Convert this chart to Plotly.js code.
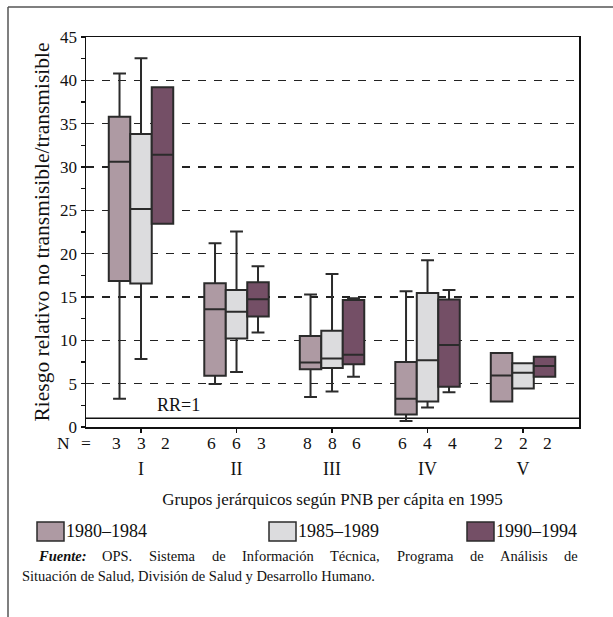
<!DOCTYPE html>
<html>
<head>
<meta charset="utf-8">
<script src="https://cdn.plot.ly/plotly-3.0.1.min.js"></script>
<style>
  html, body { margin: 0; padding: 0; background: #ffffff; }
  #chart { width: 613px; height: 617px; }
</style>
</head>
<body>
<div id="chart"></div>
<script>
// ---------- DATA ----------
const groups = ['I', 'II', 'III', 'IV', 'V'];
const seriesNames = ['1980–1984', '1985–1989', '1990–1994'];

// N per group, per period
const n8084 = [3, 6, 8, 6, 2];
const n8589 = [3, 6, 8, 4, 2];
const n9094 = [2, 3, 6, 4, 2];

// 1980–1984
const upper8084  = [40.8, 21.2, 15.3, 15.65, 8.54];
const q3_8084    = [35.8, 16.6, 10.5, 7.5, 8.54];
const median8084 = [30.6, 13.6, 7.45, 3.25, 5.95];
const q1_8084    = [16.85, 5.9, 6.65, 1.45, 2.95];
const lower8084  = [3.25, 4.95, 3.45, 0.7, 2.95];

// 1985–1989
const upper8589  = [42.55, 22.55, 17.65, 19.25, 7.35];
const q3_8589    = [33.8, 15.8, 11.1, 15.45, 7.35];
const median8589 = [25.15, 13.3, 7.9, 7.7, 6.25];
const q1_8589    = [16.55, 10.2, 6.8, 2.95, 4.45];
const lower8589  = [7.85, 6.35, 4.1, 2.25, 4.45];

// 1990–1994
const upper9094  = [39.2, 18.55, 14.85, 15.8, 8.1];
const q3_9094    = [39.2, 16.7, 14.65, 14.7, 8.1];
const median9094 = [31.4, 14.75, 8.35, 9.45, 7.05];
const q1_9094    = [23.45, 12.75, 7.25, 4.65, 5.8];
const lower9094  = [23.45, 10.9, 5.8, 4.0, 5.8];

const rrValue = 1;
const rrLabel = 'RR=1';
const yTitle = 'Riesgo relativo no transmisible/transmisible';
const xTitle = 'Grupos jerárquicos según PNB per cápita en 1995';
const sourceLine1 = ['<b><i>Fuente:</i></b>', 'OPS.', 'Sistema', 'de', 'Información', 'Técnica,', 'Programa', 'de', 'Análisis', 'de'];
const sourceLine2 = 'Situación de Salud, División de Salud y Desarrollo Humano.';

// ---------- STYLE ----------
const FONT = '"Liberation Serif", "Times New Roman", serif';
const fills = ['#ae9aa3', '#dcdcde', '#744f66'];
const outline = '#2b2b2b';

const stats = [
  {lo: lower8084, q1: q1_8084, med: median8084, q3: q3_8084, hi: upper8084, n: n8084},
  {lo: lower8589, q1: q1_8589, med: median8589, q3: q3_8589, hi: upper8589, n: n8589},
  {lo: lower9094, q1: q1_9094, med: median9094, q3: q3_9094, hi: upper9094, n: n9094}
];

const traces = stats.map((s, k) => ({
  type: 'box',
  name: seriesNames[k],
  x: groups,
  lowerfence: s.lo,
  q1: s.q1,
  median: s.med,
  q3: s.q3,
  upperfence: s.hi,
  boxpoints: false,
  fillcolor: fills[k],
  line: {color: outline, width: 2},
  whiskerwidth: 0.6,
  hoverinfo: 'skip',
  showlegend: false
}));

// plot area in px
const L = 86, R = 34, T = 37, B = 190, W = 613, H = 617;
const PW = W - L - R, PH = H - T - B;
const px2x = p => (p - L) / PW;
const py2y = p => (H - B - p) / PH;

const annotations = [];
const shapes = [];

// N labels
const nOffset = 0.26;
const nRowY = 443;
const nFont = {family: FONT, size: 17.5, color: '#111'};
stats.forEach((s, k) => {
  s.n.forEach((v, g) => {
    annotations.push({
      x: g + (k - 1) * nOffset, xref: 'x',
      y: py2y(nRowY), yref: 'paper',
      text: String(v), showarrow: false,
      xanchor: 'center', yanchor: 'middle',
      borderpad: 0, borderwidth: 0, font: nFont
    });
  });
});
annotations.push({
  x: px2x(70), xref: 'paper', y: py2y(nRowY), yref: 'paper',
  text: 'N', showarrow: false, xanchor: 'right', yanchor: 'middle',
  borderpad: 0, borderwidth: 0, font: nFont
});
annotations.push({
  x: px2x(81), xref: 'paper', y: py2y(nRowY), yref: 'paper',
  text: '=', showarrow: false, xanchor: 'left', yanchor: 'middle',
  borderpad: 0, borderwidth: 0, font: nFont
});

// RR line + label
shapes.push({
  type: 'line', xref: 'paper', yref: 'y', x0: 0, x1: 1, y0: rrValue, y1: rrValue,
  line: {color: '#111', width: 1.5}, layer: 'below'
});
annotations.push({
  x: 0.39, xref: 'x', y: 2.5, yref: 'y', text: rrLabel, showarrow: false,
  xanchor: 'center', yanchor: 'middle',
  font: {family: FONT, size: 18, color: '#111'}
});

// legend swatches
const swatchX = [37, 269, 467];
seriesNames.forEach((nm, k) => {
  shapes.push({
    type: 'rect', xref: 'paper', yref: 'paper',
    x0: px2x(swatchX[k]), x1: px2x(swatchX[k] + 27),
    y0: py2y(522), y1: py2y(541),
    fillcolor: fills[k], line: {color: outline, width: 1.5}
  });
  annotations.push({
    x: px2x(swatchX[k] + 29), xref: 'paper', y: py2y(531), yref: 'paper',
    text: nm, showarrow: false, xanchor: 'left', yanchor: 'middle',
    borderpad: 0, borderwidth: 0,
    font: {family: FONT, size: 18, color: '#111'}
  });
});

// source text, line 1 justified between 38 and 578 px
const SRC_SIZE = 14.5;
const ctx = document.createElement('canvas').getContext('2d');
function measure(word) {
  const bold = word.indexOf('<b>') >= 0;
  const plain = word.replace(/<[^>]+>/g, '');
  ctx.font = (bold ? 'italic bold ' : '') + SRC_SIZE + 'px "Liberation Serif"';
  return ctx.measureText(plain).width;
}
const widths = sourceLine1.map(measure);
const total = widths.reduce((a, b) => a + b, 0);
const gap = (578 - 38 - total) / (sourceLine1.length - 1);
let cur = 38;
sourceLine1.forEach((wd, i) => {
  annotations.push({
    x: px2x(cur), xref: 'paper', y: py2y(556), yref: 'paper',
    text: wd, showarrow: false, xanchor: 'left', yanchor: 'middle',
    borderpad: 0, borderwidth: 0,
    font: {family: FONT, size: SRC_SIZE, color: '#111'}
  });
  cur += widths[i] + gap;
});
annotations.push({
  x: px2x(22), xref: 'paper', y: py2y(576), yref: 'paper',
  text: sourceLine2, showarrow: false, xanchor: 'left', yanchor: 'middle',
  borderpad: 0, borderwidth: 0,
  font: {family: FONT, size: SRC_SIZE, color: '#111'}
});

// outer frame (top and left)
shapes.push({
  type: 'line', xref: 'paper', yref: 'paper',
  x0: px2x(8), x1: px2x(640), y0: py2y(7), y1: py2y(7),
  line: {color: '#555', width: 1.5}
});
shapes.push({
  type: 'line', xref: 'paper', yref: 'paper',
  x0: px2x(8), x1: px2x(8), y0: py2y(7), y1: py2y(640),
  line: {color: '#555', width: 1.5}
});

const layout = {
  width: W, height: H,
  margin: {l: L, r: R, t: T, b: B, pad: 0},
  paper_bgcolor: '#ffffff', plot_bgcolor: '#ffffff',
  boxmode: 'group', boxgap: 0.325, boxgroupgap: 0,
  showlegend: false,
  font: {family: FONT, color: '#111'},
  xaxis: {
    type: 'category', categoryorder: 'array', categoryarray: groups,
    range: [-0.576, 4.586], showgrid: false, zeroline: false,
    showline: true, linecolor: '#111', linewidth: 1.5, mirror: true,
    ticks: 'outside', ticklen: 4, tickcolor: '#111', tickwidth: 1.2,
    ticklabelstandoff: 21,
    tickfont: {family: FONT, size: 18, color: '#111'},
    title: {text: xTitle, font: {family: FONT, size: 17, color: '#111'}, standoff: 15},
    fixedrange: true
  },
  yaxis: {
    range: [0, 45], dtick: 5, tick0: 0,
    showgrid: true, gridcolor: '#222', gridwidth: 1.4, griddash: '8px,8px',
    zeroline: false,
    showline: true, linecolor: '#111', linewidth: 1.5, mirror: true,
    ticks: 'outside', ticklen: 4, tickcolor: '#111', tickwidth: 1.2,
    minor: {ticks: 'outside', ticklen: 4, dtick: 2.5, tickcolor: '#111', tickwidth: 1.2, showgrid: false},
    tickfont: {family: FONT, size: 17, color: '#111'},
    title: {text: yTitle, font: {family: FONT, size: 21.5, color: '#111'}, standoff: 4},
    fixedrange: true
  },
  shapes: shapes,
  annotations: annotations
};

Plotly.newPlot('chart', traces, layout, {displayModeBar: false, staticPlot: true});
</script>
</body>
</html>
